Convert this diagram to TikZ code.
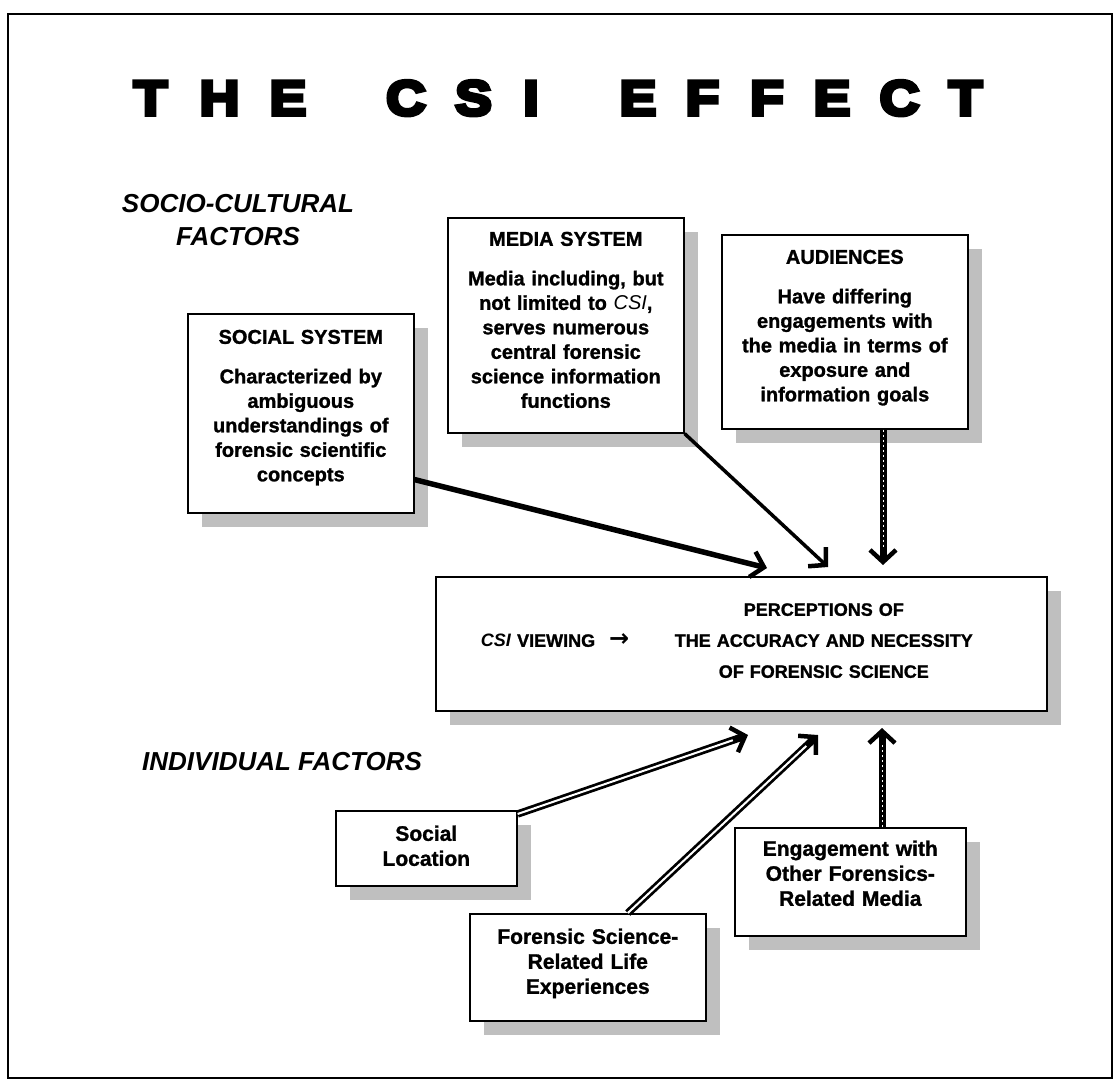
\documentclass[tikz,border=0pt]{standalone}
\usepackage{fontspec}
\setmainfont{Liberation Sans}[BoldFeatures={FakeBold=1.2}]
\newfontfamily\titlefont{Liberation Sans}[UprightFont={* Bold},UprightFeatures={FakeBold=8},FakeStretch=1.12]
\newfontfamily\symfont{DejaVu Sans}
\usepackage{tikz}
\usetikzlibrary{arrows.meta,shadows,calc}

\begin{document}
\begin{tikzpicture}[x=1pt,y=-1pt,
 titlech/.style={font=\titlefont\fontsize{49}{50}\selectfont,anchor=base,inner sep=0pt},
 factorlbl/.style={font=\fontsize{26}{33}\selectfont\bfseries\itshape,inner sep=0pt},
 sysbox/.style={draw,line width=1.6pt,fill=white,inner sep=0pt,align=center,anchor=north west,
  font=\fontsize{20}{24.5}\selectfont\bfseries,
  drop shadow={shadow xshift=14pt,shadow yshift=-14pt,fill=black!25,opacity=1}},
 indbox/.style={sysbox,font=\fontsize{21}{25}\selectfont\bfseries},
 cenbox/.style={sysbox,align=left,font=\fontsize{18}{31}\selectfont\bfseries},
 tip/.style={-{Straight Barb[length=12pt,width=26pt,line width=4.5pt]}},
 thickarrow/.style={tip,line width=5.5pt},
 thinarrow/.style={tip,line width=3.5pt},
 dblarrow/.style={tip,line width=7pt,
  postaction={draw=white,line width=0.8pt,dash pattern=on 2pt off 3pt,-,shorten >=16pt}},
 hollowarrow/.style={tip,line width=7.5pt,
  postaction={draw=white,line width=2pt,-,shorten >=16pt}}]
 \useasboundingbox (0,0) rectangle (1116,1084);
 \draw[line width=1.5pt] (8,14) rectangle (1112,1078);
 \foreach \ch/\cx [count=\i] in {T/150.5,H/219.5,E/288,C/406,S/473.5,I/531,
  E/638,F/702.5,F/767,E/832,C/899.5,T/965.5}
  \node[titlech] (title\i) at (\cx,115) {\ch};
 \node[factorlbl,text width=280pt,align=center,anchor=base] (socio) at (238,212)
  {SOCIO-CULTURAL\\FACTORS};
 \node[factorlbl,anchor=base west] (indiv) at (142,770) {INDIVIDUAL FACTORS};
 \node[sysbox,text width=226pt,text height=30pt,text depth=169pt] (soc) at (187,313)
  {SOCIAL SYSTEM\\[15pt]Characterized by\\ambiguous\\understandings of\\forensic scientific\\concepts};
 \node[sysbox,text width=236pt,text height=28pt,text depth=187pt] (med) at (447,217)
  {MEDIA SYSTEM\\[15pt]Media including, but\\not limited to {\mdseries\itshape CSI},\\serves numerous\\central forensic\\science information\\functions};
 \node[sysbox,text width=246pt,text height=29pt,text depth=165pt] (aud) at (721,234)
  {AUDIENCES\\[15pt]Have differing\\engagements with\\the media in terms of\\exposure and\\information goals};
 \node[cenbox,text width=611pt,text height=39pt,text depth=95pt] (cen) at (435,576)
  {\makebox[240pt][l]{}\makebox[296pt]{PERCEPTIONS OF}\\
   \makebox[240pt][l]{\hspace{45pt}\textit{CSI} VIEWING\hspace{14pt}{\symfont\bfseries\fontsize{24}{31}\selectfont →}}\makebox[296pt]{THE ACCURACY AND NECESSITY}\\
   \makebox[240pt][l]{}\makebox[296pt]{OF FORENSIC SCIENCE}};
 \node[indbox,text width=181pt,text height=30pt,text depth=45pt] (loc) at (335,810)
  {Social\\Location};
 \node[indbox,text width=236pt,text height=30pt,text depth=77pt] (fsr) at (469,913)
  {Forensic Science-\\Related Life\\Experiences};
 \node[indbox,text width=231pt,text height=28pt,text depth=80pt] (eng) at (734,827)
  {Engagement with\\Other Forensics-\\Related Media};
 \coordinate (socin) at (767,568);
 \coordinate (medin) at (828,567);
 \coordinate (audin) at (883,565);
 \coordinate (locin) at (748,735);
 \coordinate (fsrin) at (818,735);
 \coordinate (engin) at (882,728);
 \draw[thickarrow] ($(soc.south east)+(0,-34)$) -- (socin);
 \draw[thinarrow] (med.south east) -- (medin);
 \draw[dblarrow] (aud.south -| audin) -- (audin);
 \draw[hollowarrow] ($(loc.north east)+(0,4)$) -- (locin);
 \draw[hollowarrow] ($(fsr.north)+(40,0)$) -- (fsrin);
 \draw[dblarrow] (eng.north -| engin) -- (engin);
\end{tikzpicture}
\end{document}
